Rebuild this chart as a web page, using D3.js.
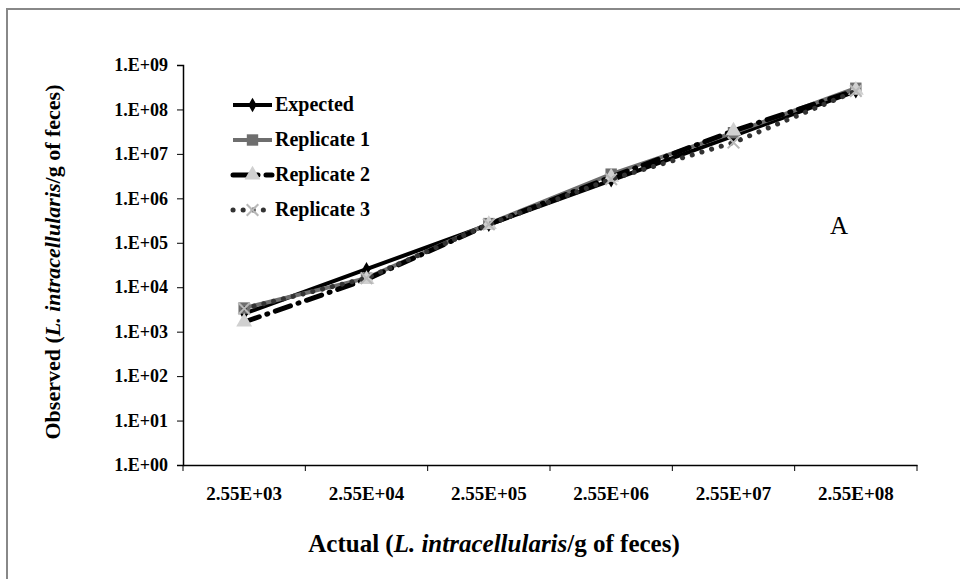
<!DOCTYPE html>
<html><head><meta charset="utf-8">
<script src="https://cdn.jsdelivr.net/npm/d3@7"></script>
<style>body{margin:0;background:#fff}svg{display:block}</style>
</head><body>
<script>
const categories = ["2.55E+03","2.55E+04","2.55E+05","2.55E+06","2.55E+07","2.55E+08"];
const expected   = [2.55e3, 2.55e4, 2.55e5, 2.55e6, 2.55e7, 2.55e8];
const replicate1 = [3.4e3, 1.6e4, 2.7e5, 3.5e6, 3.0e7, 3.0e8];
const replicate2 = [1.65e3, 1.5e4, 2.6e5, 3.0e6, 3.3e7, 2.7e8];
const replicate3 = [3.3e3, 1.6e4, 2.6e5, 2.7e6, 1.8e7, 2.6e8];
const yTicks = [1e0,1e1,1e2,1e3,1e4,1e5,1e6,1e7,1e8,1e9];
const yTickLabels = ["1.E+00","1.E+01","1.E+02","1.E+03","1.E+04","1.E+05","1.E+06","1.E+07","1.E+08","1.E+09"];

const W=960,H=579;
const svg=d3.select("body").append("svg").attr("width",W).attr("height",H);
svg.append("rect").attr("x",7).attr("y",9).attr("width",W+20).attr("height",H+20)
  .attr("fill","#fff").attr("stroke","#888").attr("stroke-width",2);

const x=d3.scaleBand().domain(categories).range([183,917]);
const y=d3.scaleLog().domain([1,1e9]).range([465,65]);
const font="'Liberation Serif','Times New Roman',serif";

// axes
const yAx=svg.append("g").attr("transform","translate(183,0)")
  .call(d3.axisLeft(y).tickValues(yTicks).tickFormat((d,i)=>yTickLabels[i]).tickSize(6).tickPadding(9));
const xAx=svg.append("g").attr("transform","translate(0,465)")
  .call(d3.axisBottom(x).tickSize(0).tickPadding(22));
[yAx,xAx].forEach(g=>{
  g.select(".domain").attr("stroke","#000").attr("stroke-width",1.5);
  g.selectAll("text").attr("font-family",font).attr("font-weight","bold").attr("fill","#000");
  g.selectAll("line").attr("stroke","#000");
});
yAx.selectAll("text").attr("font-size",18);
xAx.selectAll("text").attr("font-size",19);
// x boundary ticks
const bounds=categories.map(c=>x(c)).concat([x.range()[1]]);
svg.append("g").selectAll("line").data(bounds).join("line")
  .attr("x1",d=>d).attr("x2",d=>d).attr("y1",465).attr("y2",471).attr("stroke","#000");

const cx=c=>x(c)+x.bandwidth()/2;
const series=[
  {name:"Expected",vals:expected,color:"#000",width:4,dash:null,cap:"butt",marker:"diamond",mfill:"#000"},
  {name:"Replicate 1",vals:replicate1,color:"#6e6e6e",width:4,dash:null,cap:"butt",marker:"square",mfill:"#6e6e6e"},
  {name:"Replicate 2",vals:replicate2,color:"#000",width:5,dash:"16,8,1,8",cap:"round",marker:"triangle",mfill:"#d0d0d0"},
  {name:"Replicate 3",vals:replicate3,color:"#333",width:5,dash:"0.1,10",cap:"round",marker:"x",mfill:"#b8b8b8"}
];
const line=d3.line().x((d,i)=>cx(categories[i])).y(d=>y(d));
const symbols={diamond:d3.symbolDiamond,square:d3.symbolSquare,triangle:d3.symbolTriangle,x:d3.symbolX};
const sizes={diamond:60,square:130,triangle:110,x:90};

function drawMarker(g,s,px,py){
  const sym=d3.symbol().type(symbols[s.marker]).size(sizes[s.marker]);
  const p=g.append("path").attr("d",sym()).attr("transform",`translate(${px},${py})`);
  if(s.marker==="x") p.attr("fill","none").attr("stroke",s.mfill).attr("stroke-width",2);
  else p.attr("fill",s.mfill).attr("stroke","none");
}

series.forEach(s=>{
  const g=svg.append("g");
  g.append("path").datum(s.vals).attr("d",line).attr("fill","none")
    .attr("stroke",s.color).attr("stroke-width",s.width).attr("stroke-linecap",s.cap)
    .attr("stroke-dasharray",s.dash);
  s.vals.forEach((v,i)=>drawMarker(g,s,cx(categories[i]),y(v)));
});

// legend
const lg=svg.append("g");
series.forEach((s,i)=>{
  const ly=105+i*35;
  lg.append("line").attr("x1",233).attr("x2",272).attr("y1",ly).attr("y2",ly)
    .attr("stroke",s.color).attr("stroke-width",s.width).attr("stroke-linecap",s.cap)
    .attr("stroke-dasharray",s.dash);
  drawMarker(lg,s,252.5,ly);
  lg.append("text").attr("x",275).attr("y",ly+6).text(s.name)
    .attr("font-family",font).attr("font-weight","bold").attr("font-size",20);
});

// axis titles
const xt=svg.append("text").attr("x",494).attr("y",552).attr("text-anchor","middle")
  .attr("font-family",font).attr("font-weight","bold").attr("font-size",25);
xt.append("tspan").text("Actual (");
xt.append("tspan").attr("font-style","italic").text("L. intracellularis");
xt.append("tspan").text("/g of feces)");
const yt=svg.append("text").attr("transform","translate(60,262) rotate(-90)").attr("text-anchor","middle")
  .attr("font-family",font).attr("font-weight","bold").attr("font-size",22);
yt.append("tspan").text("Observed  (");
yt.append("tspan").attr("font-style","italic").text("L. intracellularis");
yt.append("tspan").text("/g of feces)");

svg.append("text").attr("x",839).attr("y",234).attr("text-anchor","middle")
  .attr("font-family",font).attr("font-size",25).text("A");
</script>
</body></html>
